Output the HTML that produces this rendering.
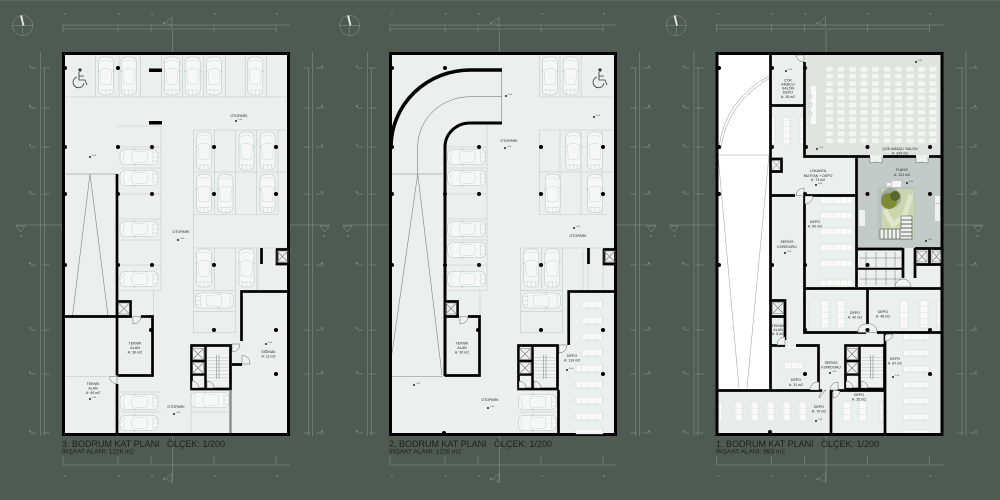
<!DOCTYPE html>
<html><head><meta charset="utf-8"><style>
html,body{margin:0;padding:0;background:#4e5a52}
svg{display:block}
text{font-family:"Liberation Sans",sans-serif}
.l{fill:#1c211f;font-size:3.6px;text-anchor:middle}
.g{stroke:#8b978f;stroke-width:.5;fill:none}
.gt{fill:#a7b2aa;font-size:3px;text-anchor:middle}
.w{stroke:#000;stroke-width:2.700;fill:none}
.lt{stroke:#c3cdc8;stroke-width:.6;fill:none}
.t1{fill:#1b211e;font-size:9.4px}
.t2{fill:#1b211e;font-size:6.2px}
.d{stroke:#444;stroke-width:.4;fill:#f1f3f2}
.th{fill:url(#tp);stroke:#ccd4d0;stroke-width:.4}
.tv{fill:url(#tq);stroke:#ccd4d0;stroke-width:.4}
</style></head><body>
<svg width="1000" height="500" viewBox="0 0 1000 500" xmlns="http://www.w3.org/2000/svg">
<defs>
<pattern id="tp" width="7" height="8" patternUnits="userSpaceOnUse"><rect width="7" height="8" fill="#f8f9f8"/><path d="M0 0V8" stroke="#c9d1cd" stroke-width=".5"/></pattern>
<pattern id="tq" width="9" height="6" patternUnits="userSpaceOnUse"><rect width="9" height="6" fill="#f8f9f8"/><path d="M0 0H9" stroke="#c9d1cd" stroke-width=".5"/></pattern>
<pattern id="ch" x="826" y="66.8" width="11.5" height="7.17" patternUnits="userSpaceOnUse"><rect x="0" y="0" width="7" height="4.7" rx="1" fill="#f3f5f4"/></pattern>
<pattern id="st" width="5" height="3.4" patternUnits="userSpaceOnUse"><rect width="5" height="3.4" fill="#f2f4f3"/><path d="M0 0H5" stroke="#888" stroke-width=".5"/></pattern>
<g id="cv">
<rect x="-7.5" y="-19" width="15" height="38" rx="5" fill="#f6f8f7" stroke="#bcc6c1" stroke-width=".6"/>
<path d="M-6 -6Q0 -9 6 -6L5 8Q0 9 -5 8Z M-6 14H6M-4 19V13M0 19V13M4 19V13M-6 -14Q0 -18 6 -14" fill="none" stroke="#ccd4d0" stroke-width=".5"/>
<path d="M-8.5 -4L-7 -5M8.500 -4L7 -5" stroke="#b3bdb8" stroke-width=".7"/>
</g>
<use id="ch1" href="#cv" transform="rotate(-90)"/>
<use id="ch2" href="#cv" transform="rotate(90)"/>
<g id="s"><rect x="-.8" y="-.8" width="1.6" height="1.6" fill="#000"/><text x="1.5" y="-.9" font-size="2" fill="#444">-0.00</text></g>
<circle id="c" r="2" fill="#000"/>
<g id="x"><path d="M0 0L11 11M11 0L0 11" stroke="#777" stroke-width=".6"/><rect width="11" height="11" fill="none" stroke="#777" stroke-width=".5"/></g>
<g id="wc" fill="none" stroke="#2e3633" stroke-width=".8">
<circle cx="0" cy="-8" r="1.6" fill="#2e3633" stroke="none"/><path d="M-1 -6V2H5L7 7M-1 -2H4M-3 -1A5.500 5.500 0 1 0 4 5" /></g>
<g id="grid">
<circle cx="22.700" cy="25.500" r="10" class="g" stroke-width=".7"/>
<path d="M12.700 25.500H32.700M22.700 15.500V35.500" class="g"/>
<path d="M21 15.500L23.500 25.500" stroke="#e8ece8" stroke-width="1.800"/>
<path class="g" d="M62 25H290M63 29H276M63 25V33M118 25V33M151 25V33M214 25V33M276 25V33M172.500 30V52M172.500 436V482M62 465H290M63 456V464M118 456V464M151 456V464M214 456V464M276 456V464M40.500 52V436M44.500 68V436M312.500 52V436M308.500 68V436M16 225H62M290 225H330"/>
<path class="g" d="M30 68H36M42 68H50M30 108H36M42 108H50M30 147H36M42 147H50M30 194H36M42 194H50M30 265H36M42 265H50M30 330H36M42 330H50M30 374H36M42 374H50M30 433H36M42 433H50M303 68H310M316 68H324M303 108H310M316 108H324M303 147H310M316 147H324M303 194H310M316 194H324M303 265H310M316 265H324M303 330H310M316 330H324M303 374H310M316 374H324M303 433H310M316 433H324"/>
<path class="g" d="M172 17L166 22L172 27ZM172 473L166 478.500L172 483ZM16 226L20.500 232L25 226ZM320 226L324.500 232L329 226Z"/>
<text class="gt" x="30" y="67">A</text><text class="gt" x="30" y="107">B</text><text class="gt" x="30" y="146">C</text><text class="gt" x="30" y="193">D</text><text class="gt" x="30" y="264">E</text><text class="gt" x="30" y="329">F</text><text class="gt" x="30" y="373">G</text><text class="gt" x="30" y="432">H</text>
<text class="gt" x="322" y="67">A</text><text class="gt" x="322" y="107">B</text><text class="gt" x="322" y="146">C</text><text class="gt" x="322" y="193">D</text><text class="gt" x="322" y="264">E</text><text class="gt" x="322" y="329">F</text><text class="gt" x="322" y="373">G</text><text class="gt" x="322" y="432">H</text>
<text class="gt" x="65" y="15">1</text><text class="gt" x="119" y="15">2</text><text class="gt" x="152" y="15">3</text><text class="gt" x="215" y="15">4</text><text class="gt" x="277" y="15">5</text>
<text class="gt" x="65" y="477">1</text><text class="gt" x="119" y="477">2</text><text class="gt" x="152" y="477">3</text><text class="gt" x="215" y="477">4</text><text class="gt" x="277" y="477">5</text>
<text class="gt" x="164" y="24">B</text><text class="gt" x="164" y="480">B</text><text class="gt" x="21" y="237">A</text><text class="gt" x="324" y="237">A</text>
</g>
<g id="core">
<rect x="191.500" y="345.500" width="39" height="43.500" fill="#eef1f0" stroke="#000" stroke-width="2.700"/>
<path d="M205.500 345V390M191 361H205M191 374.500H205" stroke="#000" stroke-width="2.500"/>
<use href="#x" x="192.500" y="348.500"/><use href="#x" x="192.500" y="362.500"/>
<rect x="207.500" y="355" width="21" height="24" fill="url(#st)"/>
<path d="M216.500 355V379M219 355V379" stroke="#777" stroke-width=".5"/>
<path class="d" d="M192 388V381A7 7 0 0 1 199 388ZM207 388V381A7 7 0 0 1 214 388Z"/>
</g>
<g id="tek">
<path class="w" d="M132 316.500H117.500M141 316.500H152.500V375.500H117.500"/>
<path class="w" d="M117.500 301.500H130.500V316.500"/>
<use href="#x" x="118.500" y="303"/>
<path class="d" d="M133 316.500V324A8 8 0 0 0 141 317Z"/>
<circle cx="151" cy="330" r="2"/>
</g>
</defs>
<rect width="1000" height="500" fill="#4e5a52"/>
<rect width="1000" height="1" fill="#5c6760"/>
<use href="#grid"/><use href="#grid" x="327"/><use href="#grid" x="653.500"/>

<!-- PLAN 1 -->
<rect x="63.500" y="53.500" width="225" height="381" fill="#ebefed"/>
<path class="lt" d="M65 97H288M95.700 55V97M119 55V97M140.300 55V97M161.700 55V97M182.300 55V97M203.700 55V97M225.300 55V97M245.700 55V97M266.700 55V97"/>
<path class="lt" d="M116.500 126H161V290.500H119M116.500 147H161M119 168H161M119 194H161M119 219H161M119 240H161M119 265H161M153.500 290V376"/>
<path class="lt" d="M193.700 130H288M193.700 172H288M193.700 214.500H278M193.700 130V333M214.700 130V214.500M235.700 130V214.500M256.700 130V214.500M278 130V214.500M214.700 248V290M235.700 248V333M256.700 248V290M193.700 248H288M193.700 290.700H235.700M193.700 311.700H235.700M193.700 332.700H235.700"/>
<path class="lt" d="M119 392H161M119 412H161M119 433H161M191 392V436M191 412H230M258 250V290"/>
<path d="M65 174H116M90 174L72.500 316M90 174L108 316" stroke="#7d8581" stroke-width=".6" fill="none"/>
<path d="M65 376.500H108" stroke="#b8c2bd" stroke-width=".6"/>
<path d="M230.500 391V436" stroke="#88918d" stroke-width="2.500"/>
<use href="#wc" x="80" y="78"/>
<use href="#cv" x="106" y="76"/><use href="#cv" x="128.700" y="76"/><use href="#cv" x="172" y="76"/><use href="#cv" x="192.700" y="76"/><use href="#cv" x="214" y="76"/><use href="#cv" x="255.300" y="76"/>
<use href="#cv" x="204" y="151"/><use href="#cv" x="246.500" y="151"/><use href="#cv" x="267.600" y="151"/><use href="#cv" x="204" y="193.500"/><use href="#cv" x="225.500" y="193.500"/><use href="#cv" x="267.500" y="193.500"/><use href="#cv" x="204" y="268"/><use href="#cv" x="246.500" y="268"/>
<use href="#ch1" x="139" y="157"/><use href="#ch1" x="139" y="178"/><use href="#ch1" x="139" y="229"/><use href="#ch1" x="139" y="279"/><use href="#ch2" x="214.500" y="300.500"/><use href="#ch1" x="139" y="402"/><use href="#ch1" x="139" y="423"/><use href="#ch1" x="210" y="400"/>
<rect x="63.500" y="53.500" width="225" height="381" class="w" style="stroke-width:3"/>
<path class="w" d="M117 174V316.500M63 316.500H117M117 316V375.500M117 384V436M261.500 248V264M276 249.500H289M277 249V264H288"/>
<rect x="149" y="68.500" width="13" height="3.500"/><rect x="149" y="121" width="13" height="3.500"/>
<use href="#x" x="277" y="251"/>
<use href="#tek"/>
<path class="d" d="M117 376.500H109.500A8 8 0 0 0 117 384Z"/>
<path class="w" d="M289 291.500H241.500V341M232 364.500H242"/>
<path class="d" d="M232 352V344H240A8 8 0 0 1 232 352ZM242 364V355.500A8 8 0 0 1 250 364Z"/>
<use href="#core"/>
<use href="#c" x="118" y="68"/><use href="#c" x="118" y="147"/><use href="#c" x="152" y="147"/><use href="#c" x="118" y="194"/><use href="#c" x="152" y="194"/><use href="#c" x="214" y="147"/><use href="#c" x="276" y="147"/><use href="#c" x="214" y="194"/><use href="#c" x="276" y="194"/><use href="#c" x="65" y="68"/><use href="#c" x="65" y="147"/><use href="#c" x="65" y="194"/><use href="#c" x="118" y="265"/><use href="#c" x="152" y="265"/><use href="#c" x="214" y="265"/><use href="#c" x="214" y="330"/><use href="#c" x="276" y="330"/><use href="#c" x="276" y="374"/><use href="#c" x="65" y="265"/>
<use href="#s" x="90" y="157"/><use href="#s" x="236" y="121"/><use href="#s" x="178" y="240"/><use href="#s" x="174" y="414"/><use href="#s" x="90" y="399"/><use href="#s" x="266" y="344"/>
<text class="l" x="239" y="117">OTOPARK</text><text class="l" x="181" y="233">OTOPARK</text><text class="l" x="176" y="408">OTOPARK</text>
<text class="l" x="135" y="344.500">TEKNİK</text><text class="l" x="135" y="349">ALAN</text><text class="l" x="135" y="353.500">A: 30 m2</text>
<text class="l" x="93" y="385">TEKNİK</text><text class="l" x="93" y="389.500">ALAN</text><text class="l" x="93" y="394">A: 90 m2</text>
<text class="l" x="268.500" y="353">SIĞINAK</text><text class="l" x="268.500" y="357.500">A: 11 m2</text>
<text class="t1" x="62" y="447" textLength="163" lengthAdjust="spacingAndGlyphs">3. BODRUM KAT PLANI &#160;&#160;ÖLÇEK: 1/200</text>
<text class="t2" x="62" y="453.500" textLength="72" lengthAdjust="spacingAndGlyphs">İNŞAAT ALANI: 1226 m2</text>

<!-- PLAN 2 -->
<rect x="390.500" y="53.500" width="225" height="381" fill="#ebefed"/>
<path class="lt" d="M539.300 55V97M560 55V97M581 55V97M539.300 97H614M447 147H487M447 168H487M447 194H487M447 219H487M447 240H487M447 265H487M447 290.500H487V123M480 290V316M539.300 130V214.500M560 130V214.500M581 130V214.500M602 130V214.500M539.300 130H614M539.300 172H614M539.300 214.500H606M520.700 248V333M541.700 248V290M562.700 248V333M520.700 248H614M520.700 290.700H562.700M520.700 311.700H562.700M520.700 332.700H562.700M588 250V290M583 250V290M603 250V290M519 412H557M519 433H557"/>
<path d="M417.700 147V174M391 174H442M417.700 174L392 353M417.700 174L442 375M392 376.500H443M501.700 70V123" stroke="#7d8581" stroke-width=".6" fill="none"/>
<path d="M417.700 147A52.300 50.300 0 0 1 470 96.700H502" stroke="#7d8581" stroke-width=".6" fill="none"/>
<path d="M391 147A79 77 0 0 1 470 70H502" stroke="#000" stroke-width="3.600" fill="none"/>
<path d="M445 376V147A25 24 0 0 1 470 123H502" stroke="#000" stroke-width="3" fill="none"/>
<use href="#wc" x="600" y="78"/>
<use href="#cv" x="550" y="76"/><use href="#cv" x="570.700" y="76"/>
<use href="#cv" x="573.300" y="151"/><use href="#cv" x="595" y="151"/><use href="#cv" x="552.700" y="193.500"/><use href="#cv" x="595" y="193.500"/><use href="#cv" x="531.300" y="268"/><use href="#cv" x="552.300" y="268"/>
<use href="#ch1" x="466.700" y="157"/><use href="#ch1" x="466.700" y="178"/><use href="#ch1" x="466.700" y="229"/><use href="#ch1" x="466.700" y="250"/><use href="#ch1" x="466.700" y="279"/><use href="#ch2" x="541.700" y="300.500"/><use href="#ch1" x="537.300" y="402"/><use href="#ch1" x="537.300" y="423"/>
<rect x="390.500" y="53.500" width="225" height="381" class="w" style="stroke-width:3"/>
<g class="th"><rect x="582" y="301" width="21" height="7"/><rect x="582" y="317" width="21" height="7"/><rect x="582" y="333" width="21" height="7"/><rect x="582" y="349" width="21" height="7"/><rect x="576" y="365" width="27" height="7"/><rect x="576" y="381" width="27" height="7"/><rect x="576" y="397" width="27" height="7"/><rect x="576" y="413" width="27" height="7"/><rect x="576" y="429" width="27" height="5"/></g>
<use href="#tek" x="327"/>
<path class="w" d="M616 291.500H568.700V345M558.500 390V436M588.500 248V264M603 249.500H616M604 249V264H615"/>
<use href="#x" x="604" y="251"/>
<path class="d" d="M559 353V345H567A8 8 0 0 1 559 353Z"/>
<use href="#core" x="327"/>
<use href="#c" x="445" y="68"/><use href="#c" x="479" y="147"/><use href="#c" x="479" y="194"/><use href="#c" x="445" y="194"/><use href="#c" x="541" y="147"/><use href="#c" x="603" y="147"/><use href="#c" x="541" y="194"/><use href="#c" x="603" y="194"/><use href="#c" x="392" y="68"/><use href="#c" x="392" y="147"/><use href="#c" x="392" y="194"/><use href="#c" x="479" y="265"/><use href="#c" x="445" y="265"/><use href="#c" x="541" y="265"/><use href="#c" x="541" y="330"/><use href="#c" x="603" y="330"/><use href="#c" x="603" y="374"/><use href="#c" x="392" y="265"/><use href="#c" x="444" y="433"/>
<use href="#s" x="506" y="96"/><use href="#s" x="594" y="117"/><use href="#s" x="505" y="148"/><use href="#s" x="574" y="228"/><use href="#s" x="414" y="385"/><use href="#s" x="488" y="408"/><use href="#s" x="567" y="370"/>
<text class="l" x="509" y="142">OTOPARK</text><text class="l" x="578" y="237">OTOPARK</text><text class="l" x="490" y="401">OTOPARK</text>
<text class="l" x="462" y="344.500">TEKNİK</text><text class="l" x="462" y="349">ALAN</text><text class="l" x="462" y="353.500">A: 30 m2</text>
<text class="l" x="572" y="357">DEPO</text><text class="l" x="572" y="361.500">A: 114 m2</text>
<text class="t1" x="389" y="447" textLength="163" lengthAdjust="spacingAndGlyphs">2. BODRUM KAT PLANI &#160;&#160;ÖLÇEK: 1/200</text>
<text class="t2" x="389" y="453.500" textLength="72" lengthAdjust="spacingAndGlyphs">İNŞAAT ALANI: 1226 m2</text>

<!-- PLAN 3 -->
<rect x="717" y="53.500" width="225" height="381" fill="#ebefed"/>
<rect x="718" y="55" width="52" height="335" fill="#fff"/>
<rect x="806" y="55" width="135" height="100" fill="#dfe4e1"/>
<rect x="857" y="158" width="84" height="90" fill="#c3cbc8"/>
<rect x="719" y="392" width="111" height="41" fill="#e8ecea"/>
<path d="M719 147Q725 100 769 76M720.500 150Q727 103 769 78.500" stroke="#8a918e" stroke-width=".5" fill="none"/>
<path d="M718 155H770M718 155L739 388M769 155L747 388" stroke="#a3aaa7" stroke-width=".6" fill="none"/>
<rect x="826" y="66.800" width="115" height="79" fill="url(#ch)"/>
<rect x="811" y="86" width="5" height="38" fill="#f7f8f7"/>
<rect x="809" y="95" width="3" height="3" fill="#eef" stroke="#999" stroke-width=".3"/><rect x="809" y="103" width="3" height="3" fill="#eef" stroke="#999" stroke-width=".3"/><rect x="809" y="112" width="3" height="3" fill="#eef" stroke="#999" stroke-width=".3"/>
<rect x="877" y="187" width="38" height="53" fill="#b9c3c0"/>
<rect x="882" y="189" width="32" height="49" fill="#ccd6ae"/>
<path d="M885 210L893 225L905 215L911 195" stroke="#dfe6cb" stroke-width="5" fill="none"/>
<circle cx="891" cy="198" r="10" fill="#8a958f" opacity=".7"/>
<circle cx="889" cy="201" r="8" fill="#7f8b33"/><circle cx="895" cy="196" r="5" fill="#59682f"/>
<path d="M880 229H901V216L912 216V239H880Z" fill="#f2f3f1" stroke="#333" stroke-width=".5"/>
<path d="M884 229V239M888 229V239M892 229V239M896 229V239M900 229V239M901 220H912M901 224H912M901 228H912M901 232H912M901 236H912" stroke="#333" stroke-width=".7"/>
<rect x="887" y="183" width="4" height="3" fill="#f5f6f5"/><rect x="892" y="181" width="9" height="6" fill="#f5f6f5"/>
<rect x="859" y="210" width="6" height="16" fill="#eef1f0"/><rect x="935" y="196" width="5" height="7" fill="#eef1f0"/><rect x="935" y="204" width="5" height="17" fill="#eef1f0"/>
<g class="th">
<rect x="820" y="197" width="33" height="7"/><rect x="820" y="212" width="33" height="7"/><rect x="820" y="228" width="33" height="7"/><rect x="820" y="244" width="33" height="7"/><rect x="820" y="260" width="33" height="7"/><rect x="820" y="280" width="33" height="6"/>
<rect x="903" y="334" width="26" height="6"/><rect x="903" y="350" width="26" height="6"/><rect x="903" y="366" width="26" height="6"/><rect x="903" y="382" width="26" height="6"/><rect x="903" y="398" width="26" height="6"/><rect x="903" y="414" width="26" height="6"/><rect x="903" y="430" width="26" height="4"/>
<rect x="783" y="362" width="20" height="7"/><rect x="785" y="346" width="16" height="3"/>
</g>
<g class="tv">
<rect x="771" y="117" width="4" height="27"/><rect x="783" y="117" width="7" height="27"/><rect x="800" y="117" width="4" height="27"/>
<rect x="821" y="300" width="8" height="28"/><rect x="837" y="300" width="8" height="28"/><rect x="900" y="300" width="8" height="28"/><rect x="920" y="300" width="8" height="28"/><rect x="806" y="301" width="2" height="26"/><rect x="937" y="300" width="3" height="27"/>
<rect x="735" y="401" width="7.500" height="21"/><rect x="751" y="401" width="7.500" height="21"/><rect x="767" y="401" width="7.500" height="21"/><rect x="783" y="401" width="7.500" height="21"/><rect x="799" y="401" width="7.500" height="21"/><rect x="719" y="401" width="3" height="21"/>
<rect x="843" y="401" width="8" height="21"/><rect x="859" y="401" width="7.500" height="21"/><rect x="880" y="401" width="3" height="21"/>
</g>
<rect x="717" y="53.500" width="225" height="381" class="w" style="stroke-width:3"/>
<path class="w" d="M770.500 52V390.500M770 105.500H804.500M804.500 62V156.500H870M883 156.500H916M929 156.500H942M856.500 156V287M771 195.500H795M805 195.500H856M804.500 195V288.500V332.500H866M877 332.500H942M805 288.500H942M867.500 288V332M770 345.500H785M796 345.500H818.500V389M718 390.500H822M832 390.500H884M831 390V436M885 332V436"/>
<path class="w" d="M771 159H781.500V171.500H771M771 300.500H785V340M771 316.500H785M857 249H903M903 248V278M915 248V278M915 248.500H942M915 264.500H941M929.500 249V264"/>
<path d="M857 268.700H903" stroke="#000" stroke-width="2"/>
<path d="M772 160L781 170M781 160L772 170" stroke="#777" stroke-width=".5"/>
<use href="#x" x="772.500" y="302.500"/>
<path d="M917 251L927 262M927 251L917 262M932 251L941 262M941 251L932 262" stroke="#777" stroke-width=".6"/><rect x="917" y="251" width="10" height="11" fill="none" stroke="#777" stroke-width=".5"/><rect x="932" y="251" width="9" height="11" fill="none" stroke="#777" stroke-width=".5"/>
<path d="M860 258H901M860 279H901M866 252V267M876 252V267M886 252V267M895 252V267M866 270V285M876 270V285M886 270V285M895 270V285" stroke="#6e7572" stroke-width=".5" fill="none"/>
<path class="d" d="M796 55A8 8 0 0 0 804 62V55ZM870 157V163L876 162L882 163V157M916 157V163L922 162L928 163V157M796 195.500A8 8 0 0 1 804 188V196ZM805 196V204A8 8 0 0 0 813 196ZM895 287A8 8 0 0 1 903 279A8 8 0 0 1 911 287ZM858 332.500A8 8 0 0 1 867 324A8 8 0 0 1 877 332.500ZM885 335V341A8 8 0 0 0 893 334ZM777 345A8 8 0 0 1 785 337V345ZM810 390A8 8 0 0 1 819 382V390ZM826 390A8 8 0 0 0 819 398ZM830 390A8 8 0 0 1 838 382V390ZM833 390V398A8 8 0 0 0 840 391Z"/>
<use href="#core" x="654"/>
<use href="#c" x="772" y="68"/><use href="#c" x="805" y="68"/><use href="#c" x="772" y="147"/><use href="#c" x="806" y="147"/><use href="#c" x="867.500" y="147"/><use href="#c" x="930" y="147"/><use href="#c" x="867.500" y="194"/><use href="#c" x="930" y="194"/><use href="#c" x="805" y="194"/><use href="#c" x="867.500" y="265"/><use href="#c" x="805" y="265"/><use href="#c" x="772" y="265"/><use href="#c" x="805" y="330"/><use href="#c" x="867.500" y="330"/><use href="#c" x="930" y="330"/><use href="#c" x="805" y="374"/><use href="#c" x="930" y="374"/><use href="#c" x="770" y="432"/><use href="#c" x="719" y="68"/><use href="#c" x="719" y="147"/><use href="#c" x="719" y="194"/><use href="#c" x="719" y="265"/>
<use href="#s" x="786" y="71"/><use href="#s" x="916" y="62"/><use href="#s" x="817" y="149"/><use href="#s" x="907" y="183"/><use href="#s" x="816" y="185"/><use href="#s" x="926" y="241"/><use href="#s" x="785" y="253"/><use href="#s" x="830" y="373"/><use href="#s" x="893" y="377"/><use href="#s" x="816" y="421"/>
<text class="l" x="788" y="81.500">ÇOK</text><text class="l" x="788" y="85.500">AMAÇLI</text><text class="l" x="788" y="89.500">SALON</text><text class="l" x="788" y="93.500">DEPO</text><text class="l" x="788" y="98">A: 26 m2</text>
<text class="l" x="900" y="150">ÇOK AMAÇLI SALON</text><text class="l" x="900" y="154.500">A: 204 m2</text>
<text class="l" x="902" y="171">FUAYE</text><text class="l" x="902" y="176">A: 121 m2</text>
<text class="l" x="818" y="172">LOKANTA</text><text class="l" x="818" y="177">MUTFAK + DEPO</text><text class="l" x="818" y="181">A: 73 m2</text>
<text class="l" x="815" y="223">DEPO</text><text class="l" x="815" y="227.500">A: 60 m2</text>
<text class="l" x="787" y="243">SERVİS</text><text class="l" x="787" y="248">KORİDORU</text>
<text class="l" x="855" y="314">DEPO</text><text class="l" x="855" y="318.500">A: 40 m2</text>
<text class="l" x="883" y="313">DEPO</text><text class="l" x="883" y="317.500">A: 48 m2</text>
<text class="l" x="778" y="327">TEKNİK</text><text class="l" x="778" y="331">ALAN</text><text class="l" x="778" y="335">A: 8 m2</text>
<text class="l" x="831" y="364">SERVİS</text><text class="l" x="831" y="368.500">KORİDORU</text>
<text class="l" x="895" y="360">DEPO</text><text class="l" x="895" y="364.500">A: 87 m2</text>
<text class="l" x="796" y="381">DEPO</text><text class="l" x="796" y="386">A: 31 m2</text>
<text class="l" x="819" y="408">DEPO</text><text class="l" x="819" y="412.500">A: 70 m2</text>
<text class="l" x="859" y="396">DEPO</text><text class="l" x="859" y="400.500">A: 35 m2</text>
<text class="t1" x="716" y="447" textLength="163" lengthAdjust="spacingAndGlyphs">1. BODRUM KAT PLANI &#160;&#160;ÖLÇEK: 1/200</text>
<text class="t2" x="716" y="453.500" textLength="69" lengthAdjust="spacingAndGlyphs">İNŞAAT ALANI: 983 m2</text>
</svg>
</body></html>
